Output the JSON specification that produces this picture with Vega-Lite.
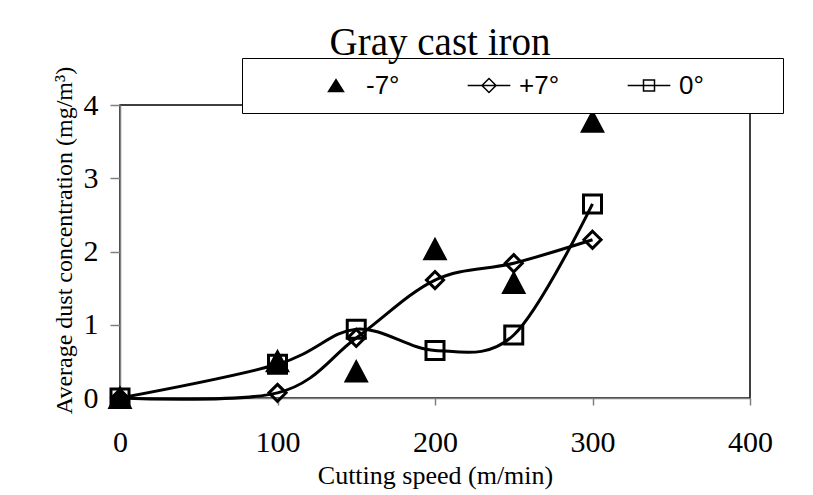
{
  "$schema": "https://vega.github.io/schema/vega-lite/v6.json",
  "width": 630,
  "height": 293,
  "autosize": {"type": "none"},
  "padding": {"left": 120, "top": 105, "right": 63, "bottom": 97},
  "background": "white",
  "title": {
    "text": "Gray cast iron",
    "font": "Liberation Serif",
    "fontSize": 39,
    "fontWeight": "normal",
    "color": "black",
    "frame": "group",
    "anchor": "middle",
    "baseline": "alphabetic",
    "offset": -36,
    "dx": 5
  },
  "data": {
    "values": [
      {"speed": 0, "conc": 0, "series": "-7°"},
      {"speed": 100, "conc": 0.5, "series": "-7°"},
      {"speed": 150, "conc": 0.36, "series": "-7°"},
      {"speed": 200, "conc": 2.03, "series": "-7°"},
      {"speed": 250, "conc": 1.57, "series": "-7°"},
      {"speed": 300, "conc": 3.77, "series": "-7°"},
      {"speed": 0, "conc": 0, "series": "+7°"},
      {"speed": 100, "conc": 0.07, "series": "+7°"},
      {"speed": 150, "conc": 0.82, "series": "+7°"},
      {"speed": 200, "conc": 1.61, "series": "+7°"},
      {"speed": 250, "conc": 1.84, "series": "+7°"},
      {"speed": 300, "conc": 2.16, "series": "+7°"},
      {"speed": 0, "conc": 0, "series": "0°"},
      {"speed": 100, "conc": 0.46, "series": "0°"},
      {"speed": 150, "conc": 0.94, "series": "0°"},
      {"speed": 200, "conc": 0.65, "series": "0°"},
      {"speed": 250, "conc": 0.86, "series": "0°"},
      {"speed": 300, "conc": 2.65, "series": "0°"}
    ]
  },
  "encoding": {
    "x": {
      "field": "speed",
      "type": "quantitative",
      "scale": {"domain": [0, 400], "nice": false, "zero": false},
      "axis": {
        "values": [0, 100, 200, 300, 400],
        "grid": false,
        "domainColor": "#808080",
        "domainWidth": 1.5,
        "tickColor": "#808080",
        "tickWidth": 1.5,
        "tickSize": 7,
        "labelFont": "Liberation Serif",
        "labelFontSize": 30,
        "labelColor": "black",
        "labelPadding": 22,
        "labelFlush": false,
        "labelOverlap": false,
        "title": "Cutting speed (m/min)",
        "titleFont": "Liberation Serif",
        "titleFontSize": 26,
        "titleFontWeight": "normal",
        "titleColor": "black",
        "titleBaseline": "alphabetic",
        "titleY": 85,
        "titleX": 315
      }
    },
    "y": {
      "field": "conc",
      "type": "quantitative",
      "scale": {"domain": [0, 4], "nice": false, "zero": false},
      "axis": {
        "values": [0, 1, 2, 3, 4],
        "grid": false,
        "domainColor": "#808080",
        "domainWidth": 1.5,
        "tickColor": "#808080",
        "tickWidth": 1.5,
        "tickSize": 10,
        "labelFont": "Liberation Serif",
        "labelFontSize": 30,
        "labelColor": "black",
        "labelPadding": 12,
        "labelFlush": false,
        "labelOverlap": false,
        "title": "Average dust concentration (mg/m³)",
        "titleFont": "Liberation Serif",
        "titleFontSize": 24,
        "titleFontWeight": "normal",
        "titleColor": "black",
        "titleAngle": -90,
        "titleAlign": "center",
        "titleBaseline": "alphabetic",
        "titleX": -49,
        "titleY": 135
      }
    }
  },
  "layer": [
    {
      "transform": [{"filter": "datum.series !== '-7°'"}],
      "mark": {"type": "line", "interpolate": "cardinal", "stroke": "black", "strokeWidth": 3},
      "encoding": {"detail": {"field": "series"}}
    },
    {
      "mark": {"type": "point", "filled": true, "size": 324, "stroke": "black", "strokeWidth": 3, "opacity": 1},
      "encoding": {
        "shape": {
          "field": "series",
          "type": "nominal",
          "scale": {
            "domain": ["-7°", "+7°", "0°"],
            "range": ["M0,-1.05L1.11,1.05L-1.11,1.05Z", "M0,-0.95L0.95,0L0,0.95L-0.95,0Z", "M-1,-1H1V1H-1Z"]
          },
          "legend": null
        },
        "fill": {
          "field": "series",
          "type": "nominal",
          "scale": {"domain": ["-7°", "+7°", "0°"], "range": ["black", "transparent", "transparent"]},
          "legend": null
        }
      }
    },
    {
      "transform": [{"filter": "false"}],
      "mark": {"type": "point", "filled": true, "size": 1936, "stroke": "black", "strokeWidth": 2, "opacity": 1},
      "encoding": {
        "shape": {
          "field": "series",
          "type": "nominal",
          "scale": {
            "domain": ["-7°", "+7°", "0°"],
            "range": ["M0,-0.27L0.34,0.27L-0.34,0.27Z", "M-0.97,0H0.97M0,-0.32L0.32,0L0,0.32L-0.32,0Z", "M-0.97,0H0.97M-0.25,-0.25H0.25V0.25H-0.25Z"]
          },
          "legend": {
            "orient": "none",
            "legendX": 122,
            "legendY": -47,
            "direction": "horizontal",
            "title": "\u00a0",
            "titleOrient": "left",
            "titleFontSize": 8,
            "titlePadding": 57,
            "symbolSize": 1936,
            "clipHeight": 27,
            "labelFont": "Liberation Sans",
            "labelFontSize": 26,
            "labelColor": "black",
            "labelOffset": 7,
            "columnPadding": 66,
            "padding": 14,
            "strokeColor": "black",
            "fillColor": "white",
            "labelExpr": "datum.label + (datum.value === '0°' ? '\u2003\u2003\u2002\u200B' : '')",
            "encode": {
              "legend": {"update": {"strokeWidth": {"value": 1.5}}},
              "symbols": {"update": {"stroke": {"value": "black"}, "strokeWidth": {"value": 2}}}
            }
          }
        },
        "fill": {
          "field": "series",
          "type": "nominal",
          "scale": {"domain": ["-7°", "+7°", "0°"], "range": ["black", "transparent", "transparent"]},
          "legend": {
            "orient": "none",
            "legendX": 122,
            "legendY": -47,
            "direction": "horizontal",
            "title": "\u00a0",
            "titleOrient": "left",
            "titleFontSize": 8,
            "titlePadding": 57,
            "symbolSize": 1936,
            "clipHeight": 27,
            "labelFont": "Liberation Sans",
            "labelFontSize": 26,
            "labelColor": "black",
            "labelOffset": 7,
            "columnPadding": 66,
            "padding": 14,
            "strokeColor": "black",
            "fillColor": "white",
            "labelExpr": "datum.label + (datum.value === '0°' ? '\u2003\u2003\u2002\u200B' : '')",
            "encode": {
              "legend": {"update": {"strokeWidth": {"value": 1.5}}},
              "symbols": {"update": {"stroke": {"value": "black"}, "strokeWidth": {"value": 2}}}
            }
          }
        }
      }
    }
  ],
  "resolve": {"scale": {"shape": "independent", "fill": "independent"}},
  "config": {
    "view": {"stroke": "black", "strokeWidth": 1.5}
  }
}
